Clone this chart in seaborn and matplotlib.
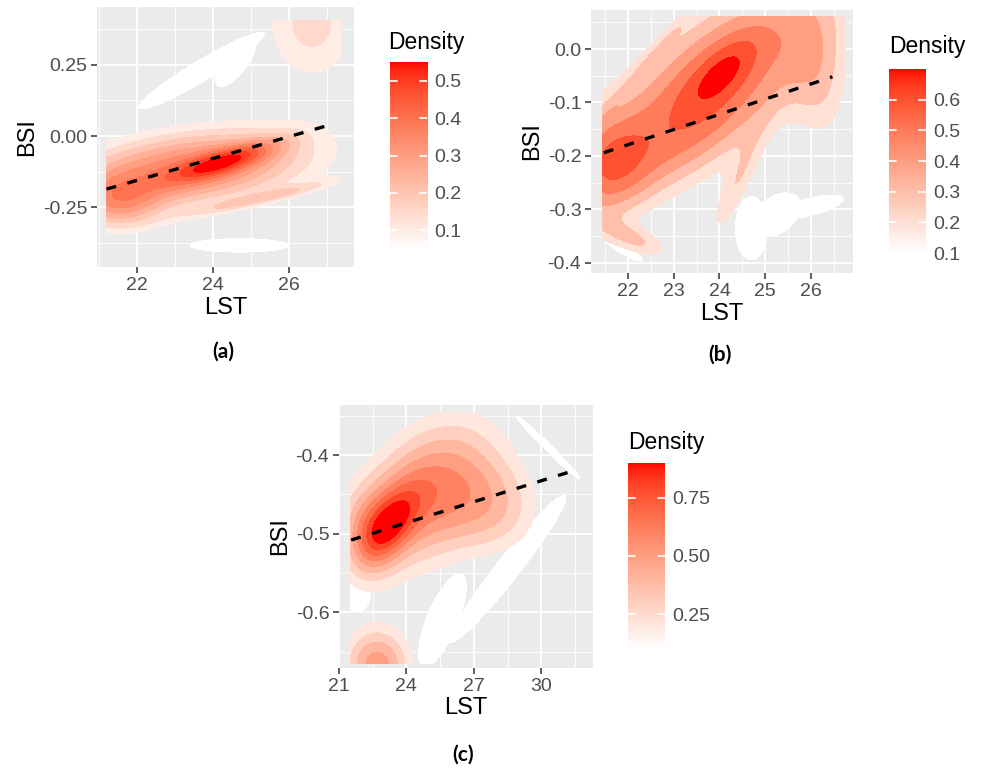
import numpy as np
import matplotlib
matplotlib.use("Agg")
import matplotlib.pyplot as plt
import seaborn as sns
from matplotlib.colors import ListedColormap, Normalize

# ---------------- data ----------------
# Panel (a)
a_x_ticks = [22, 24, 26]
a_x_minor = [21, 23, 25, 27]
a_y_ticks = [-0.25, 0.0, 0.25]
a_y_minor = [-0.375, -0.125, 0.125, 0.375]
a_y_ticklabels = ["-0.25", "0.00", "0.25"]
a_xlim = [20.95, 27.71]
a_ylim = [-0.461, 0.454]
a_box_x = [21.2, 27.35]
a_box_y = [-0.42, 0.405]
a_levels = [0.05, 0.10, 0.15, 0.20, 0.25, 0.30, 0.35, 0.40, 0.45, 0.50, 0.55]
a_cbar_ticks = [0.1, 0.2, 0.3, 0.4, 0.5]
a_cbar_labels = ["0.1", "0.2", "0.3", "0.4", "0.5"]
# density components (centre, spread along LST, slope, vertical spread, height)
a_mx = [24.4, 23.4, 21.5, 25.4, 26.6]
a_my = [-0.085, -0.115, -0.24, -0.215, 0.40]
a_sx = [1.0, 2.3, 0.8, 1.4, 1.0]
a_k = [0.04, 0.015, 0.0, 0.03, 0.0]
a_sv = [0.03, 0.095, 0.07, 0.015, 0.17]
a_w = [0.24, 0.39, 0.21, 0.14, 0.17]
# lowest-level (white) patches
a_wx = [23.7, 24.6, 24.7]
a_wy = [0.23, 0.26, -0.385]
a_wsx = [1.4, 0.45, 1.1]
a_wk = [0.078, 0.12, 0.0]
a_wsv = [0.035, 0.05, 0.02]
a_line_x = [21.2, 27.1]
a_line_y = [-0.187, 0.040]

# Panel (b)
b_x_ticks = [22, 23, 24, 25, 26]
b_x_minor = [21.5, 22.5, 23.5, 24.5, 25.5, 26.5]
b_y_ticks = [-0.4, -0.3, -0.2, -0.1, 0.0]
b_y_minor = [-0.35, -0.25, -0.15, -0.05, 0.05]
b_y_ticklabels = ["-0.4", "-0.3", "-0.2", "-0.1", "0.0"]
b_xlim = [21.19, 26.92]
b_ylim = [-0.419, 0.073]
b_box_x = [21.45, 26.75]
b_box_y = [-0.395, 0.06]
b_levels = [0.1, 0.2, 0.3, 0.4, 0.5, 0.6, 0.7]
b_cbar_ticks = [0.1, 0.2, 0.3, 0.4, 0.5, 0.6]
b_cbar_labels = ["0.1", "0.2", "0.3", "0.4", "0.5", "0.6"]
b_mx = [24.1, 24.0, 21.5, 26.2, 24.3, 22.2, 22.5, 22.8, 23.0]
b_my = [-0.04, -0.055, -0.215, -0.07, -0.27, -0.36, -0.02, -0.12, -0.2]
b_sx = [0.55, 1.9, 0.65, 0.5, 0.45, 0.6, 0.7, 0.8, 1.2]
b_k = [0.06, 0.05, 0.02, -0.05, 0.15, -0.03, 0.1, 0.06, 0.05]
b_sv = [0.035, 0.11, 0.07, 0.1, 0.04, 0.02, 0.012, 0.06, 0.05]
b_w = [0.16, 0.57, 0.36, 0.20, 0.22, 0.25, 0.10, 0.05, 0.12]
b_wx = [24.7, 25.25, 26.0, 21.9]
b_wy = [-0.335, -0.31, -0.295, -0.375]
b_wsx = [0.3, 0.45, 0.6, 0.35]
b_wk = [0.0, 0.03, 0.02, -0.05]
b_wsv = [0.05, 0.032, 0.014, 0.008]
b_line_x = [21.47, 26.47]
b_line_y = [-0.194, -0.052]

# Panel (c)
c_x_ticks = [21, 24, 27, 30]
c_x_minor = [22.5, 25.5, 28.5, 31.5]
c_y_ticks = [-0.6, -0.5, -0.4]
c_y_minor = [-0.65, -0.55, -0.45, -0.35]
c_y_ticklabels = ["-0.6", "-0.5", "-0.4"]
c_xlim = [21.0, 32.3]
c_ylim = [-0.671, -0.336]
c_box_x = [21.5, 31.8]
c_box_y = [-0.665, -0.345]
c_levels = [0.1, 0.2, 0.3, 0.4, 0.5, 0.6, 0.7, 0.8, 0.9]
c_cbar_ticks = [0.25, 0.50, 0.75]
c_cbar_labels = ["0.25", "0.50", "0.75"]
c_mx = [23.3, 24.8, 28.0, 22.7, 22.3]
c_my = [-0.487, -0.45, -0.47, -0.668, -0.50]
c_sx = [0.9, 2.3, 1.6, 1.1, 0.9]
c_k = [0.02, 0.012, 0.0, 0.0, 0.0]
c_sv = [0.028, 0.065, 0.045, 0.035, 0.04]
c_w = [0.42, 0.62, 0.30, 0.55, 0.28]
c_wx = [21.8, 25.6, 28.5, 30.3]
c_wy = [-0.578, -0.61, -0.545, -0.39]
c_wsx = [0.5, 0.9, 2.2, 1.2]
c_wk = [0.0, 0.04, 0.035, -0.028]
c_wsv = [0.018, 0.035, 0.02, 0.005]
c_line_x = [21.54, 31.4]
c_line_y = [-0.508, -0.420]

panel_tags = ["(a)", "(b)", "(c)"]

# ---------------- style ----------------
sns.set_theme(style="darkgrid", rc={
    "axes.facecolor": "#EBEBEB",
    "grid.color": "white",
    "axes.edgecolor": "#EBEBEB",
})
plt.rcParams["font.family"] = ["Liberation Sans", "DejaVu Sans"]

W, H = 985, 769
fig = plt.figure(figsize=(W / 100, H / 100), dpi=100)
fig.patch.set_facecolor("white")


def px_axes(left, top, right, bottom):
    return fig.add_axes([left / W, 1 - bottom / H, (right - left) / W, (bottom - top) / H])


# ggplot-like white -> red gradient interpolated in Lab space
_M = np.array([[0.4124564, 0.3575761, 0.1804375],
               [0.2126729, 0.7151522, 0.0721750],
               [0.0193339, 0.1191920, 0.9503041]])
_WHITE = np.array([0.95047, 1.0, 1.08883])


def srgb_to_lab(rgb):
    c = np.asarray(rgb, float)
    lin = np.where(c <= 0.04045, c / 12.92, ((c + 0.055) / 1.055) ** 2.4)
    xyz = (_M @ lin) / _WHITE
    f = np.where(xyz > 0.008856, np.cbrt(xyz), 7.787 * xyz + 16 / 116)
    return np.array([116 * f[1] - 16, 500 * (f[0] - f[1]), 200 * (f[1] - f[2])])


def lab_to_srgb(lab):
    L, a, b = lab[:, 0], lab[:, 1], lab[:, 2]
    fy = (L + 16) / 116
    fx = fy + a / 500
    fz = fy - b / 200

    def finv(f):
        return np.where(f ** 3 > 0.008856, f ** 3, (f - 16 / 116) / 7.787)

    xyz = np.stack([finv(fx), finv(fy), finv(fz)], axis=1) * _WHITE
    lin = np.clip(xyz @ np.linalg.inv(_M).T, 0, 1)
    return np.clip(np.where(lin <= 0.0031308, 12.92 * lin, 1.055 * lin ** (1 / 2.4) - 0.055), 0, 1)


t = np.linspace(0, 1, 256)[:, None]
lab = (1 - t) * srgb_to_lab([1, 1, 1]) + t * srgb_to_lab([1, 0, 0])
cmap = ListedColormap(lab_to_srgb(lab))


def density(xx, yy, mx, my, sx, k, sv, w, combine="sum"):
    z = np.zeros_like(xx)
    for m1, m2, s1, kk, s2, ww in zip(mx, my, sx, k, sv, w):
        dx = xx - m1
        dy = yy - m2 - kk * dx
        g = ww * np.exp(-0.5 * ((dx / s1) ** 2 + (dy / s2) ** 2))
        z = z + g if combine == "sum" else np.maximum(z, g)
    return z


def draw_panel(rect, xlim, ylim, xt, xmin, yt, ymin, ytl, box_x, box_y, comps, wcomps,
               levels, line_x, line_y):
    ax = px_axes(*rect)
    ax.set_axisbelow(True)
    gx = np.linspace(box_x[0], box_x[1], 500)
    gy = np.linspace(box_y[0], box_y[1], 500)
    xx, yy = np.meshgrid(gx, gy)
    norm = Normalize(vmin=levels[0], vmax=levels[-1])
    # lowest level: white patches
    zw = density(xx, yy, *wcomps, [1.0] * len(wcomps[0]), combine="max")
    ax.contourf(xx, yy, zw, levels=[0.5, 9], colors=[cmap(norm(levels[0]))], zorder=2)
    # main density bands
    zz = density(xx, yy, *comps)
    cols = [cmap(norm(v)) for v in levels[1:]]
    ax.contourf(xx, yy, zz, levels=list(levels[1:]) + [99], colors=cols, zorder=2.5)
    sns.lineplot(x=line_x, y=line_y, ax=ax, color="black", linewidth=2.4,
                 linestyle=(0, (3, 3.5)), zorder=3)
    ax.set_xlim(xlim)
    ax.set_ylim(ylim)
    ax.set_xticks(xt)
    ax.set_xticks(xmin, minor=True)
    ax.set_yticks(yt)
    ax.set_yticks(ymin, minor=True)
    ax.set_yticklabels(ytl)
    ax.grid(which="major", color="white", linewidth=1.3)
    ax.grid(which="minor", color="white", linewidth=0.6)
    ax.tick_params(which="major", length=4, width=1.1, color="#333333",
                   labelsize=14, labelcolor="#4D4D4D", pad=3, direction="out",
                   bottom=True, left=True)
    ax.tick_params(which="minor", length=0)
    for s in ax.spines.values():
        s.set_visible(False)
    ax.set_xlabel("LST", fontsize=17, color="black", labelpad=2)
    ax.set_ylabel("BSI", fontsize=17, color="black", labelpad=3)
    return ax


def draw_cbar(rect, levels, ticks, labels, title_xy):
    cax = px_axes(*rect)
    vmin, vmax = levels[0], levels[-1]
    grad = np.linspace(vmin, vmax, 256)[:, None]
    cax.imshow(grad, aspect="auto", cmap=cmap, norm=Normalize(vmin, vmax),
               extent=[0, 1, vmin, vmax], origin="lower")
    cax.set_xlim(0, 1)
    cax.set_ylim(vmin, vmax)
    cax.grid(False)
    for s in cax.spines.values():
        s.set_visible(False)
    cax.set_xticks([])
    cax.yaxis.tick_right()
    cax.set_yticks(ticks)
    cax.set_yticklabels(labels)
    cax.tick_params(axis="y", length=0, labelsize=14, labelcolor="#4D4D4D", pad=5)
    for tv in ticks:
        cax.plot([0, 0.2], [tv, tv], color="white", lw=1.2)
        cax.plot([0.8, 1.0], [tv, tv], color="white", lw=1.2)
    fig.text(title_xy[0] / W, 1 - title_xy[1] / H, "Density", fontsize=16.5,
             color="black", ha="left", va="center")


draw_panel((97, 7, 354, 267), a_xlim, a_ylim, a_x_ticks, a_x_minor, a_y_ticks,
           a_y_minor, a_y_ticklabels, a_box_x, a_box_y,
           (a_mx, a_my, a_sx, a_k, a_sv, a_w), (a_wx, a_wy, a_wsx, a_wk, a_wsv),
           a_levels, a_line_x, a_line_y)
draw_cbar((390, 62, 427, 249), a_levels, a_cbar_ticks, a_cbar_labels, (388, 43))

draw_panel((591, 10, 853, 273), b_xlim, b_ylim, b_x_ticks, b_x_minor, b_y_ticks,
           b_y_minor, b_y_ticklabels, b_box_x, b_box_y,
           (b_mx, b_my, b_sx, b_k, b_sv, b_w), (b_wx, b_wy, b_wsx, b_wk, b_wsv),
           b_levels, b_line_x, b_line_y)
draw_cbar((889, 69, 926, 253), b_levels, b_cbar_ticks, b_cbar_labels, (889, 47))

draw_panel((339, 405, 593, 668), c_xlim, c_ylim, c_x_ticks, c_x_minor, c_y_ticks,
           c_y_minor, c_y_ticklabels, c_box_x, c_box_y,
           (c_mx, c_my, c_sx, c_k, c_sv, c_w), (c_wx, c_wy, c_wsx, c_wk, c_wsv),
           c_levels, c_line_x, c_line_y)
draw_cbar((628, 463, 665, 649), c_levels, c_cbar_ticks, c_cbar_labels, (628, 442))

for tag, (tx, ty) in zip(panel_tags, [(223, 352), (720, 355), (463, 755)]):
    fig.text(tx / W, 1 - ty / H, tag, fontsize=15, fontweight="bold",
             family=["Lato", "DejaVu Sans"], ha="center", va="center", color="black")

fig.savefig("out.png", dpi=100, facecolor="white")
